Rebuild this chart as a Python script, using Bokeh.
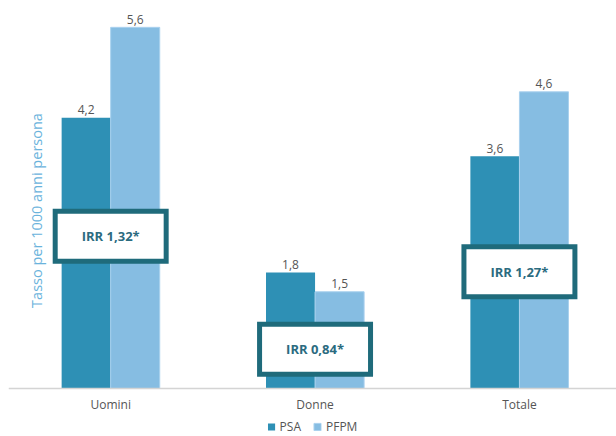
import math
from bokeh.plotting import figure
from bokeh.models import (ColumnDataSource, Legend, LegendItem, Label, Range1d, Span)
from bokeh.core.properties import value
from bokeh.embed import file_html
from bokeh.resources import INLINE

categories = ["Uomini", "Donne", "Totale"]
psa = [4.2, 1.8, 3.6]
pfpm = [5.6, 1.5, 4.6]
irr_labels = ["IRR 1,32*", "IRR 0,84*", "IRR 1,27*"]
irr_box_y = [2.36, 0.61, 1.81]   # vertical placement of the IRR boxes (data units)

PSA_COLOR = "#2e90b5"
PFPM_COLOR = "#86bde2"
BOX_COLOR = "#1f6b7b"
FONT = "Open Sans"

xs = list(range(len(categories)))
fmt = lambda v: f"{v:.1f}".replace(".", ",")

src_psa = ColumnDataSource(dict(x=[i - 0.12 for i in xs], top=psa, lab=[fmt(v) for v in psa]))
src_pfpm = ColumnDataSource(dict(x=[i + 0.12 for i in xs], top=pfpm, lab=[fmt(v) for v in pfpm]))
src_box = ColumnDataSource(dict(x=xs, y=irr_box_y, lab=irr_labels))
src_cat = ColumnDataSource(dict(x=xs, y=[0] * len(xs), lab=categories))

p = figure(width=616, height=436, output_backend="svg", toolbar_location=None,
           x_range=Range1d(-0.5, 2.475), y_range=Range1d(-0.744, 6.016),
           min_border_left=8, min_border_right=0, min_border_top=0, min_border_bottom=0)
p.outline_line_color = None
p.grid.visible = False
p.xaxis.visible = False
p.yaxis.visible = False

r_psa = p.vbar(x="x", top="top", width=0.24, source=src_psa, fill_color=PSA_COLOR, line_color=None)
r_pfpm = p.vbar(x="x", top="top", width=0.24, source=src_pfpm, fill_color=PFPM_COLOR,
                line_color="#a9d1ee", line_width=1)

p.add_layout(Span(location=0, dimension="width", line_color="#d4d4d4", line_width=1.5))

for s in (src_psa, src_pfpm):
    p.text(x="x", y="top", text="lab", source=s, text_align="center", text_baseline="alphabetic",
           y_offset=-8, text_font=value(FONT), text_font_size="12px", text_color="#555555")

p.text(x="x", y="y", text="lab", source=src_cat, text_align="center", text_baseline="middle",
       y_offset=16, text_font=value(FONT), text_font_size="12px", text_color="#555555")

p.rect(x="x", y="y", width=0.543, height=0.775, source=src_box, fill_color="white",
       line_color=BOX_COLOR, line_width=5, line_join="miter")
p.text(x="x", y="y", text="lab", source=src_box, text_align="center", text_baseline="middle",
       text_font=value(FONT), text_font_size="13px", text_font_style="bold", text_color="#2b6b7f")

p.add_layout(Label(x=28, y=226, x_units="screen", y_units="screen", text="Tasso per 1000 anni persona",
                   angle=math.pi / 2, text_align="center", text_baseline="middle",
                   text_font=FONT, text_font_size="14.5px", text_color="#6ab3dc"))

legend = Legend(items=[LegendItem(label="PSA", renderers=[r_psa]),
                       LegendItem(label="PFPM", renderers=[r_pfpm])],
                orientation="horizontal", location="bottom_center", glyph_width=9, glyph_height=9,
                label_height=12, label_text_font=FONT, label_text_font_size="12px",
                label_text_color="#555555", label_standoff=4, spacing=12, padding=0, margin=1,
                border_line_color=None, background_fill_alpha=0)
p.add_layout(legend)

open("out.html", "w").write(file_html(p, INLINE))
